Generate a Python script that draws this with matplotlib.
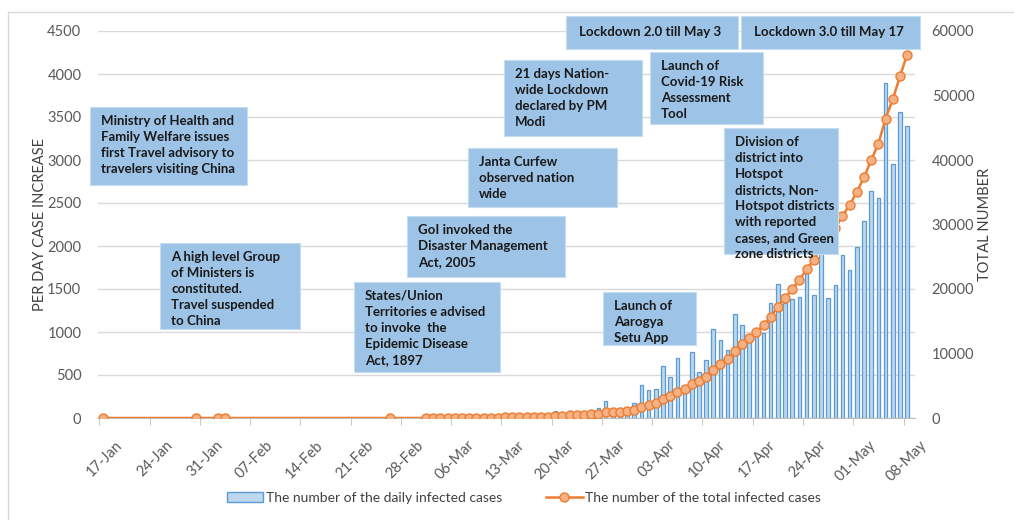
import numpy as np
import pandas as pd
import matplotlib
matplotlib.use("Agg")
import matplotlib.pyplot as plt
import matplotlib.transforms as mtransforms
from matplotlib.patches import Rectangle, Patch
from matplotlib.lines import Line2D

plt.rcParams['font.family'] = ['Lato', 'DejaVu Sans']

# ---- data ----
# sparse early reports, then one entry per day from 2 Mar to 8 May
early_dates = ["2020-01-17", "2020-01-30", "2020-02-02", "2020-02-03", "2020-02-26"]
early_daily = [0, 1, 1, 1, 0]
early_total = [0, 1, 2, 3, 3]

march_daily = [2, 1, 22, 2, 1, 3, 5, 4, 13, 6, 11, 9, 2, 26, 4, 23, 14, 22, 80, 62,
               81, 19, 85, 62, 120, 200, 36, 61, 92, 180]
march_total = [5, 6, 28, 30, 31, 34, 39, 43, 56, 62, 73, 82, 84, 110, 114, 137, 151, 173,
               253, 315, 396, 415, 500, 562, 682, 882, 918, 979, 1071, 1251]
april_daily = [386, 328, 336, 601, 472, 693, 354, 773, 540, 678, 1035, 909, 796, 1211,
               1076, 941, 1007, 991, 1334, 1553, 1336, 1383, 1409, 1684, 1429, 1990,
               1396, 1543, 1897, 1718]
april_total = [1637, 1965, 2301, 2902, 3374, 4067, 4421, 5194, 5734, 6412, 7447, 8356,
               9152, 10363, 11439, 12380, 13387, 14378, 15712, 17265, 18601, 19984,
               21393, 23077, 24506, 26496, 27892, 29435, 31332, 33050]
may_daily = [1993, 2293, 2644, 2553, 3900, 2958, 3561, 3390]
may_total = [35043, 37336, 39980, 42533, 46433, 49391, 52952, 56342]

daily_start = "2020-03-02"
daily_end = "2020-05-08"
axis_start = "2020-01-17"

left_ticks = [0, 500, 1000, 1500, 2000, 2500, 3000, 3500, 4000, 4500]
right_ticks = [0, 10000, 20000, 30000, 40000, 50000, 60000]

events = [
    ((90, 107, 247, 185), "Ministry of Health and\nFamily Welfare issues\nfirst Travel advisory to\ntravelers visiting China"),
    ((160, 243, 300, 329), "A high level Group\nof Ministers is\nconstituted.\nTravel suspended\nto China"),
    ((354, 282, 500, 372), "States/Union\nTerritories e advised\nto invoke  the\nEpidemic Disease\nAct, 1897"),
    ((407, 216, 565, 277), "GoI invoked the\nDisaster Management\nAct, 2005"),
    ((468, 148, 617, 207), "Janta Curfew\nobserved nation\nwide"),
    ((504, 60, 642, 136), "21 days Nation-\nwide Lockdown\ndeclared by PM\nModi"),
    ((603, 292, 696, 345), "Launch of\nAarogya\nSetu App"),
    ((650, 52, 763, 124), "Launch of\nCovid-19 Risk\nAssessment\nTool"),
    ((724, 128, 838, 254), "Division of\ndistrict into\nHotspot\ndistricts, Non-\nHotspot districts\nwith reported\ncases, and Green\nzone districts"),
    ((566, 16, 738, 49), "Lockdown 2.0 till May 3"),
    ((741, 16, 920, 49), "Lockdown 3.0 till May 17"),
]

# ---- assemble ----
dates = pd.to_datetime(early_dates).append(pd.date_range(daily_start, daily_end))
daily = early_daily + march_daily + april_daily + may_daily
total = early_total + march_total + april_total + may_total
t0 = pd.Timestamp(axis_start)
x = np.array([(d - t0).days for d in dates])

W, H = 1014, 520
fig = plt.figure(figsize=(W / 100, H / 100), dpi=100)

def fx(px):
    return px / W

def fy(py):
    return 1 - py / H

# chart area border
fig.patches.append(Rectangle((fx(8), fy(540)), fx(1030) - fx(8), fy(12) - fy(540),
                             transform=fig.transFigure, fill=False,
                             edgecolor='#D9D9D9', lw=1))

ax = fig.add_axes([fx(98), fy(418), fx(915) - fx(98), fy(31) - fy(418)])
ax2 = ax.twinx()

ax.bar(x, daily, width=0.5, color='#BDD7EE', edgecolor='#5B9BD5', lw=0.9, zorder=2)
ax2.plot(x, total, color='#ED7D31', lw=1.8, marker='o', ms=6.5,
         mfc='#F4B183', mec='#ED7D31', mew=1.0, zorder=3)

ax.set_xlim(-0.7, 113.1)
ax.set_ylim(0, 4500)
ax2.set_ylim(0, 60000)
ax.set_yticks(left_ticks)
ax2.set_yticks(right_ticks)
ax.grid(axis='y', color='#D9D9D9', lw=1, zorder=0)
ax.set_axisbelow(True)

for a in (ax, ax2):
    for s in a.spines.values():
        s.set_visible(False)
ax.spines['bottom'].set_visible(True)
ax.spines['bottom'].set_color('#BFBFBF')

tick_days = np.arange(0, 113, 7)
ax.set_xticks(tick_days)
ax.set_xticklabels([(t0 + pd.Timedelta(days=int(d))).strftime('%d-%b') for d in tick_days],
                   rotation=45, ha='right', va='center', rotation_mode='anchor',
                   fontsize=10.5, color='#595959')
ax.set_xticks(tick_days - 0.5, minor=True)
ax.tick_params(axis='x', which='major', length=0, pad=18)
ax.tick_params(axis='x', which='minor', length=5, color='#BFBFBF')
shift = mtransforms.ScaledTranslation(0.17, 0, fig.dpi_scale_trans)
for lab in ax.get_xticklabels():
    lab.set_transform(lab.get_transform() + shift)

ax.tick_params(axis='y', length=0, pad=12, labelsize=10.5, labelcolor='#595959')
ax2.tick_params(axis='y', length=0, pad=12, labelsize=10.5, labelcolor='#595959')
ax.set_ylabel('PER DAY CASE INCREASE', fontsize=10.5, color='#404040', labelpad=0)
ax2.set_ylabel('TOTAL NUMBER', fontsize=10.5, color='#404040', labelpad=3)

for (x0, y0, x1, y1), txt in events:
    fig.patches.append(Rectangle((fx(x0), fy(y1)), fx(x1) - fx(x0), fy(y0) - fy(y1),
                                 transform=fig.transFigure, facecolor='#9DC3E6',
                                 edgecolor='#C5DDF0', lw=0.8, zorder=5))
    if '\n' in txt:
        fig.text(fx(x0 + 11), fy(y0 + 8), txt, ha='left', va='top', fontsize=9.5,
                 fontweight='bold', color='#1A1A1A', linespacing=1.4, zorder=6)
    else:
        fig.text(fx(x0 + 13), fy((y0 + y1) / 2), txt, ha='left', va='center',
                 fontsize=9.5, fontweight='bold', color='#1A1A1A', zorder=6)

handles = [Patch(facecolor='#BDD7EE', edgecolor='#5B9BD5'),
           Line2D([], [], color='#ED7D31', lw=1.8, marker='o', ms=6.5,
                  mfc='#F4B183', mec='#ED7D31')]
fig.legend(handles, ['The number of the daily infected cases',
                     'The number of the total infected cases'],
           loc='center', bbox_to_anchor=(fx(524), fy(498)), ncol=2, frameon=False,
           fontsize=10, handlelength=2.6, handletextpad=0.2, columnspacing=3.2,
           labelcolor='#404040')

fig.savefig('out.png', dpi=100)
